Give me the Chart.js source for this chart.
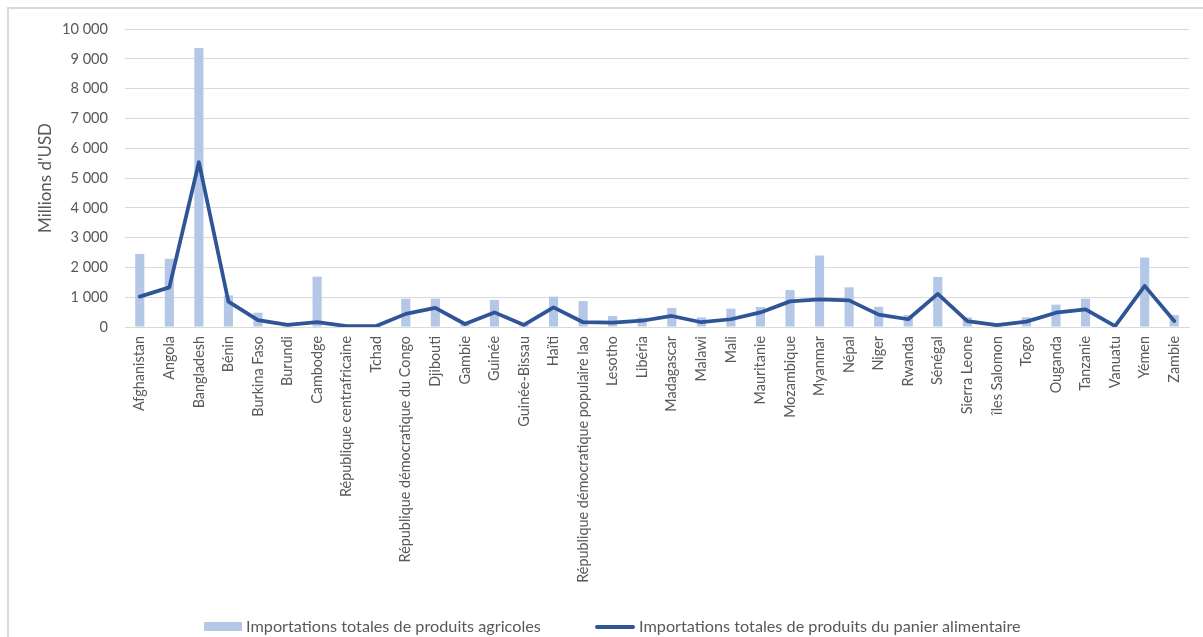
<!DOCTYPE html>
<html>
<head>
<meta charset="utf-8">
<script src="https://cdn.jsdelivr.net/npm/chart.js@4"></script>
<style>
  html, body { margin: 0; padding: 0; background: #fff; width: 1203px; height: 637px; overflow: hidden; }
  #frame { position: absolute; left: 7px; top: 7px; width: 1300px; height: 700px; border-left: 2px solid #d9d9d9; border-top: 2px solid #d9d9d9; }
  #wrap { position: absolute; left: 0; top: 0; width: 1203px; height: 637px; }
  .leg { position: absolute; font-family: Lato, sans-serif; color: #595959; white-space: nowrap; }
  .sw { position: absolute; }
</style>
</head>
<body>
<div id="frame"></div>
<div id="wrap"><canvas id="c" width="1203" height="637"></canvas></div>
<div class="sw" id="sw1" style="left:204px; top:622px; width:38px; height:9px; background:#B4C7E7;"></div>
<div class="leg" id="lt1" style="left:246px;"></div>
<div class="sw" id="sw2" style="left:595px; top:624.5px; width:40px; height:4px; background:#2F5597; border-radius:2px;"></div>
<div class="leg" id="lt2" style="left:639px;"></div>
<script>
const categories = ["Afghanistan","Angola","Bangladesh","Bénin","Burkina Faso","Burundi","Cambodge","République centrafricaine","Tchad","République démocratique du Congo","Djibouti","Gambie","Guinée","Guinée-Bissau","Haïti","République démocratique populaire lao","Lesotho","Libéria","Madagascar","Malawi","Mali","Mauritanie","Mozambique","Myanmar","Népal","Niger","Rwanda","Sénégal","Sierra Leone","îles Salomon","Togo","Ouganda","Tanzanie","Vanuatu","Yémen","Zambie"];
const agricultural = [2450,2290,9360,1060,480,70,1690,30,30,950,950,100,910,70,1020,870,370,310,640,325,615,670,1240,2400,1330,680,400,1680,325,70,325,750,950,20,2330,400];
const foodBasket = [1020,1330,5530,850,230,70,160,30,30,440,640,100,490,70,660,160,145,210,370,160,260,490,860,930,895,415,260,1110,200,65,180,480,590,30,1380,200];
const seriesNames = ["Importations totales de produits agricoles","Importations totales de produits du panier alimentaire"];
const yTitle = "Millions d'USD";
const yMin = 0, yMax = 10000, yStep = 1000;

const FONT = "Lato";
const mctx = document.createElement('canvas').getContext('2d');
function fit(text, target) { mctx.font = "100px " + FONT; return 100 * target / mctx.measureText(text).width; }
const tickSize = fit("10 000", 46);
const xSize = fit("République démocratique populaire lao", 247);
const legSize = fit(seriesNames[0], 295);
const titleSize = fit(yTitle, 110);
const titlePadLeft = Math.round(45 - titleSize * 1.2 / 2);

document.getElementById('lt1').textContent = seriesNames[0];
document.getElementById('lt2').textContent = seriesNames[1];
for (const id of ['lt1','lt2']) {
  const el = document.getElementById(id);
  el.style.fontSize = legSize + 'px';
  el.style.lineHeight = '1';
  el.style.top = (626.5 - legSize * 0.55) + 'px';
}

const fmt = v => String(v).replace(/\B(?=(\d{3})+(?!\d))/g, ' ');

new Chart(document.getElementById('c'), {
  data: {
    labels: categories,
    datasets: [
      { type: 'line', label: seriesNames[1], data: foodBasket, borderColor: '#2F5597', backgroundColor: '#2F5597', borderWidth: 3.75, pointRadius: 0, tension: 0, order: 0, borderCapStyle: 'round', borderJoinStyle: 'round' },
      { type: 'bar', label: seriesNames[0], data: agricultural, backgroundColor: '#B4C7E7', categoryPercentage: 1, barPercentage: 0.31, order: 1 }
    ]
  },
  options: {
    responsive: false,
    animation: false,
    layout: { padding: { top: 29, right: 14, bottom: 0, left: titlePadLeft } },
    plugins: { legend: { display: false }, tooltip: { enabled: false } },
    scales: {
      x: {
        grid: { display: false, drawTicks: false },
        border: { display: true, color: '#d9d9d9', width: 1 },
        ticks: { autoSkip: false, maxRotation: 90, minRotation: 90, padding: 9, color: '#595959', font: { family: FONT, size: xSize } },
        afterFit: s => { s.height = 310; }
      },
      y: {
        min: yMin, max: yMax,
        grid: { color: '#d9d9d9', lineWidth: 1, drawTicks: false },
        border: { display: false },
        ticks: { stepSize: yStep, padding: 17, color: '#595959', font: { family: FONT, size: tickSize }, callback: v => fmt(v) },
        title: { display: true, text: yTitle, color: '#595959', font: { family: FONT, size: titleSize }, padding: 0 },
        afterFit: s => { s.width = 125 - titlePadLeft; }
      }
    }
  }
});
</script>
</body>
</html>
